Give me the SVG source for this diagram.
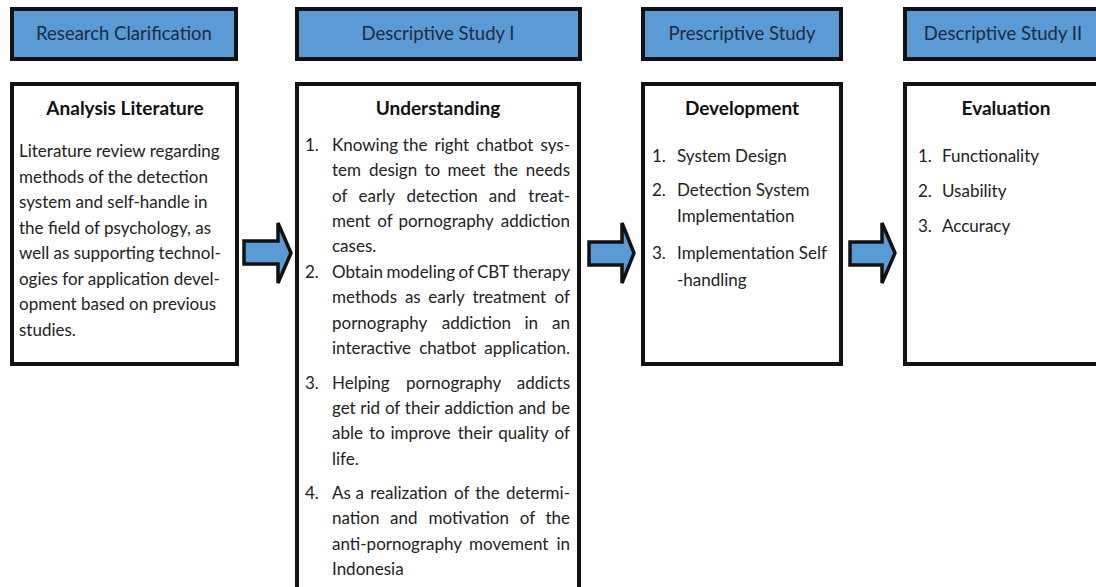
<svg xmlns="http://www.w3.org/2000/svg" width="1096" height="587" viewBox="0 0 1096 587">
<defs>
<style>
.hdr{fill:#5b9bd5;stroke:#111;stroke-width:4}
.box{fill:#fff;stroke:#111;stroke-width:4}
.arr{fill:#5b9bd5;stroke:#111;stroke-width:3.5;stroke-linejoin:miter}
text{font-family:Lato,"Open Sans","Liberation Sans",sans-serif}
.ht{font-size:18.5px;fill:#1d2b3e;text-anchor:middle}
.tt{font-size:19px;font-weight:bold;fill:#111;text-anchor:middle}
.bt{font-size:17px;fill:#222}
.e{text-anchor:end}
</style>
</defs>
<rect width="1096" height="587" fill="#fff"/>

<g id="hdr-research">
<rect class="hdr" x="12" y="9" width="224" height="50"/>
<text class="ht" x="124" y="40">Research Clarification</text>
</g>
<g id="hdr-ds1">
<rect class="hdr" x="297" y="9" width="283" height="50"/>
<text class="ht" x="438" y="40">Descriptive Study I</text>
</g>
<g id="hdr-ps">
<rect class="hdr" x="643" y="9" width="198" height="50"/>
<text class="ht" x="742" y="40">Prescriptive Study</text>
</g>
<g id="hdr-ds2">
<rect class="hdr" x="905" y="9" width="200" height="50"/>
<text class="ht" x="1003" y="40">Descriptive Study II</text>
</g>

<g id="box-analysis">
<rect class="box" x="12" y="84" width="225" height="280"/>
<text class="tt" x="125" y="115">Analysis Literature</text>
<text class="bt" x="19" y="157">Literature review regarding</text>
<text class="bt" x="19" y="182.5">methods of the detection</text>
<text class="bt" x="19" y="208">system and self-handle in</text>
<text class="bt" x="19" y="233.5">the field of psychology, as</text>
<text class="bt" x="19" y="259">well as supporting technol-</text>
<text class="bt" x="19" y="284.5">ogies for application devel-</text>
<text class="bt" x="19" y="310">opment based on previous</text>
<text class="bt" x="19" y="335.5">studies.</text>
</g>

<g id="box-understanding">
<rect class="box" x="297" y="84" width="282" height="520"/>
<text class="tt" x="438" y="115">Understanding</text>
<text class="bt" x="305" y="151">1.</text>
<text class="bt" y="151"><tspan x="332">Knowing</tspan> <tspan x="402.8">the</tspan> <tspan x="434.6">right</tspan> <tspan x="476.3">chatbot</tspan> <tspan class="e" x="570">sys-</tspan></text>
<text class="bt" y="176"><tspan x="332">tem</tspan> <tspan x="368.9">design</tspan> <tspan x="424.4">to</tspan> <tspan x="447.4">meet</tspan> <tspan x="493.4">the</tspan> <tspan class="e" x="570">needs</tspan></text>
<text class="bt" y="202"><tspan x="332">of</tspan> <tspan x="358.5">early</tspan> <tspan x="406.6">detection</tspan> <tspan x="488.7">and</tspan> <tspan class="e" x="570">treat-</tspan></text>
<text class="bt" y="227"><tspan x="332">ment</tspan> <tspan x="377.2">of</tspan> <tspan x="398.4">pornography</tspan> <tspan class="e" x="570">addiction</tspan></text>
<text class="bt" x="332" y="252">cases.</text>
<text class="bt" x="305" y="278">2.</text>
<text class="bt" y="278"><tspan x="332">Obtain</tspan> <tspan x="386.5">modeling</tspan> <tspan x="458.5">of</tspan> <tspan x="477">CBT</tspan> <tspan class="e" x="570">therapy</tspan></text>
<text class="bt" y="303"><tspan x="332">methods</tspan> <tspan x="404.9">as</tspan> <tspan x="428.3">early</tspan> <tspan x="472.4">treatment</tspan> <tspan class="e" x="570">of</tspan></text>
<text class="bt" y="329"><tspan x="332">pornography</tspan> <tspan x="441.8">addiction</tspan> <tspan x="524.5">in</tspan> <tspan class="e" x="570">an</tspan></text>
<text class="bt" y="354"><tspan x="332">interactive</tspan> <tspan x="419.2">chatbot</tspan> <tspan class="e" x="570">application.</tspan></text>
<text class="bt" x="305" y="389">3.</text>
<text class="bt" y="389"><tspan x="332">Helping</tspan> <tspan x="406">pornography</tspan> <tspan class="e" x="570">addicts</tspan></text>
<text class="bt" y="414"><tspan x="332">get</tspan> <tspan x="360.3">rid</tspan> <tspan x="384.9">of</tspan> <tspan x="404.8">their</tspan> <tspan x="444.5">addiction</tspan> <tspan x="518.4">and</tspan> <tspan class="e" x="570">be</tspan></text>
<text class="bt" y="439"><tspan x="332">able</tspan> <tspan x="369.2">to</tspan> <tspan x="390.4">improve</tspan> <tspan x="457.7">their</tspan> <tspan x="498.3">quality</tspan> <tspan class="e" x="570">of</tspan></text>
<text class="bt" x="332" y="465">life.</text>
<text class="bt" x="305" y="499">4.</text>
<text class="bt" y="499"><tspan x="332">As</tspan> <tspan x="355.4">a</tspan> <tspan x="370.2">realization</tspan> <tspan x="454.1">of</tspan> <tspan x="475.2">the</tspan> <tspan class="e" x="570">determi-</tspan></text>
<text class="bt" y="524"><tspan x="332">nation</tspan> <tspan x="390.1">and</tspan> <tspan x="428.6">motivation</tspan> <tspan x="519.8">of</tspan> <tspan class="e" x="570">the</tspan></text>
<text class="bt" y="550"><tspan x="332">anti-pornography</tspan> <tspan x="469.1">movement</tspan> <tspan class="e" x="570">in</tspan></text>
<text class="bt" x="332" y="575">Indonesia</text>
</g>

<g id="box-development">
<rect class="box" x="643" y="84" width="198" height="280"/>
<text class="tt" x="742" y="115">Development</text>
<text class="bt" x="652" y="162">1.</text>
<text class="bt" x="677" y="162">System Design</text>
<text class="bt" x="652" y="196">2.</text>
<text class="bt" x="677" y="196">Detection System</text>
<text class="bt" x="677" y="222">Implementation</text>
<text class="bt" x="652" y="259">3.</text>
<text class="bt" x="677" y="259">Implementation Self</text>
<text class="bt" x="677" y="286">-handling</text>
</g>

<g id="box-evaluation">
<rect class="box" x="905" y="84" width="200" height="280"/>
<text class="tt" x="1006" y="115">Evaluation</text>
<text class="bt" x="918" y="162">1.</text>
<text class="bt" x="942" y="162">Functionality</text>
<text class="bt" x="918" y="197">2.</text>
<text class="bt" x="942" y="197">Usability</text>
<text class="bt" x="918" y="232">3.</text>
<text class="bt" x="942" y="232">Accuracy</text>
</g>

<g id="connectors">
<polygon class="arr" points="244,241 278,241 278,223 291,253 278,283 278,264 244,264"/>
<polygon class="arr" points="589,242 622,242 622,223 634,253 622,283 622,265 589,265"/>
<polygon class="arr" points="850,242 882,242 882,223 895,253 882,283 882,265 850,265"/>
</g>
</svg>
